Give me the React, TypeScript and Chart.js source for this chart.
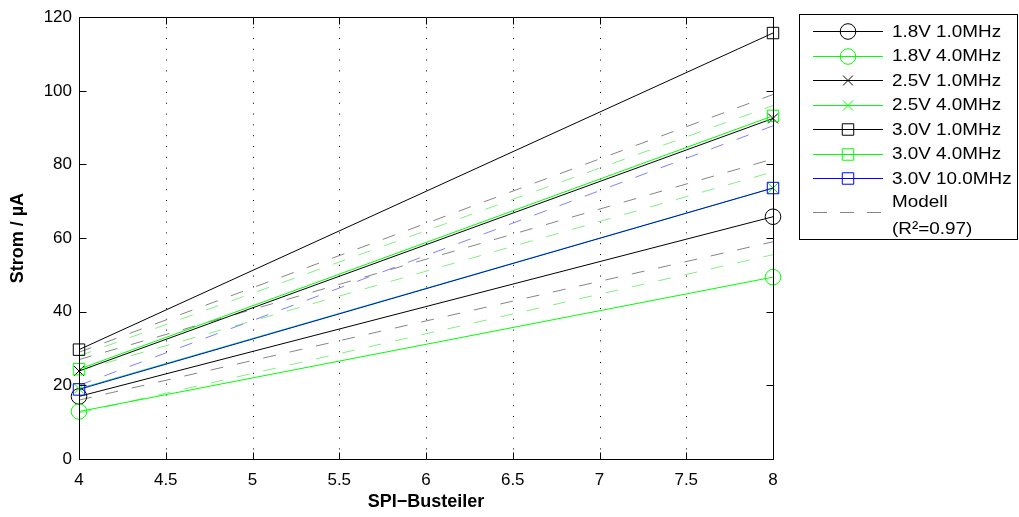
import { useEffect, useRef } from "react";
import { Chart, registerables } from "chart.js";

Chart.register(...registerables);

// SPI bus divider (x) and measured supply current in µA (y)
const divider = [4, 8];
const xTicks = [4, 4.5, 5, 5.5, 6, 6.5, 7, 7.5, 8];
const yTicks = [0, 20, 40, 60, 80, 100, 120];

const seriesLabels = [
  "1.8V 1.0MHz",
  "1.8V 4.0MHz",
  "2.5V 1.0MHz",
  "2.5V 4.0MHz",
  "3.0V 1.0MHz",
  "3.0V 4.0MHz",
  "3.0V 10.0MHz",
];

const meas18v1 = [17.0, 65.8];
const meas18v4 = [12.9, 49.4];
const meas25v1 = [23.9, 92.5];
const meas25v4 = [19.1, 73.6];
const meas30v1 = [29.7, 115.7];
const meas30v4 = [24.4, 93.2];
const meas30v10 = [18.9, 73.6];

// Linear model per operating point
const model18v1 = [16.0, 59.0];
const model18v4 = [12.5, 55.5];
const model25v1 = [27.0, 81.5];
const model25v4 = [24.0, 78.0];
const model30v1 = [29.0, 99.0];
const model30v4 = [28.0, 96.0];
const model30v10 = [20.0, 90.5];

const modelLabel = "Modell";
const modelLabel2 = "(R²=0.97)";

const BLACK = "#000000";
const GREEN = "#00ff00";
const BLUE = "#0000ff";
const GRAY_M = "#858585";
const GREEN_M = "#80f080";
const BLUE_M = "#8080ff";

const FONT = "'Liberation Sans', Arial, Helvetica, sans-serif";

type Marker = "circle" | "crossRot" | "rect";

const measured: { values: number[]; color: string; marker: Marker; radius: number }[] = [
  { values: meas18v1, color: BLACK, marker: "circle", radius: 7.8 },
  { values: meas18v4, color: GREEN, marker: "circle", radius: 7.8 },
  { values: meas25v1, color: BLACK, marker: "crossRot", radius: 7 },
  { values: meas25v4, color: GREEN, marker: "crossRot", radius: 7 },
  { values: meas30v1, color: BLACK, marker: "rect", radius: 8.1 },
  { values: meas30v4, color: GREEN, marker: "rect", radius: 8.1 },
  { values: meas30v10, color: BLUE, marker: "rect", radius: 8.1 },
];

const models: { values: number[]; color: string }[] = [
  { values: model18v1, color: GRAY_M },
  { values: model18v4, color: GREEN_M },
  { values: model25v1, color: GRAY_M },
  { values: model25v4, color: GREEN_M },
  { values: model30v1, color: GRAY_M },
  { values: model30v4, color: GREEN_M },
  { values: model30v10, color: BLUE_M },
];

const toPoints = (vals: number[]) => divider.map((x, i) => ({ x, y: vals[i] }));

function drawMarker(ctx: CanvasRenderingContext2D, marker: Marker, x: number, y: number, r: number) {
  ctx.beginPath();
  if (marker === "circle") {
    ctx.arc(x, y, r, 0, Math.PI * 2);
  } else if (marker === "rect") {
    const h = r * Math.SQRT1_2;
    ctx.rect(x - h, y - h, 2 * h, 2 * h);
  } else {
    const d = r * Math.SQRT1_2;
    ctx.moveTo(x - d, y - d);
    ctx.lineTo(x + d, y + d);
    ctx.moveTo(x - d, y + d);
    ctx.lineTo(x + d, y - d);
  }
  ctx.stroke();
}

const axesBoxPlugin = {
  id: "axesBox",
  beforeDatasetsDraw(chart: any) {
    const { ctx, chartArea: a, scales } = chart;
    const xs = scales.x;
    ctx.save();
    ctx.strokeStyle = "#000";
    ctx.lineWidth = 1;
    ctx.setLineDash([1, 9.8]);
    ctx.lineDashOffset = -10;
    for (const v of xTicks) {
      if (v === xTicks[0] || v === xTicks[xTicks.length - 1]) continue;
      const px = Math.round(xs.getPixelForValue(v)) + 0.5;
      ctx.beginPath();
      ctx.moveTo(px, a.top);
      ctx.lineTo(px, a.bottom);
      ctx.stroke();
    }
    ctx.restore();
  },
  afterDatasetsDraw(chart: any) {
    const { ctx, chartArea: a, scales } = chart;
    const xs = scales.x;
    const ys = scales.y;
    const tick = 7;
    ctx.save();
    ctx.strokeStyle = "#000";
    ctx.lineWidth = 1;
    ctx.setLineDash([]);
    const L = Math.round(a.left) + 0.5;
    const R = Math.round(a.right) + 0.5;
    const T = Math.round(a.top) + 0.5;
    const B = Math.round(a.bottom) + 0.5;
    ctx.beginPath();
    ctx.rect(L, T, R - L, B - T);
    for (const v of xTicks) {
      const px = Math.round(xs.getPixelForValue(v)) + 0.5;
      ctx.moveTo(px, B);
      ctx.lineTo(px, B - tick);
      ctx.moveTo(px, T);
      ctx.lineTo(px, T + tick);
    }
    for (const v of yTicks) {
      const py = Math.round(ys.getPixelForValue(v)) + 0.5;
      ctx.moveTo(L, py);
      ctx.lineTo(L + tick, py);
      ctx.moveTo(R, py);
      ctx.lineTo(R - tick, py);
    }
    ctx.stroke();
    ctx.restore();
  },
  afterDraw(chart: any) {
    const { ctx } = chart;
    const box = { l: 799.5, t: 14.5, r: 1017.5, b: 239.5 };
    const lineX0 = 813;
    const lineX1 = 883;
    const markX = 848;
    const textX = 892;
    const rows = [31, 55.5, 80, 104.5, 129, 153.5, 178];
    const stretch = 1.11;
    ctx.save();
    ctx.fillStyle = "#fff";
    ctx.fillRect(box.l, box.t, box.r - box.l, box.b - box.t);
    ctx.strokeStyle = "#000";
    ctx.lineWidth = 1;
    ctx.strokeRect(box.l, box.t, box.r - box.l, box.b - box.t);

    const drawText = (txt: string, x: number, y: number, size = 17) => {
      ctx.save();
      ctx.translate(x, y);
      ctx.scale(stretch, 1);
      ctx.fillStyle = "#000";
      ctx.font = `${size}px ${FONT}`;
      ctx.textAlign = "left";
      ctx.textBaseline = "middle";
      ctx.fillText(txt, 0, 0);
      const w = ctx.measureText(txt).width * stretch;
      ctx.restore();
      return w;
    };

    measured.forEach((s, i) => {
      const y = Math.round(rows[i]) + 0.5;
      ctx.strokeStyle = s.color;
      ctx.lineWidth = 1;
      ctx.setLineDash([]);
      ctx.beginPath();
      ctx.moveTo(lineX0, y);
      ctx.lineTo(lineX1, y);
      ctx.stroke();
      drawMarker(ctx, s.marker, markX, y, s.radius);
      drawText(seriesLabels[i], textX, rows[i] + 1);
    });

    // model entry
    ctx.strokeStyle = GRAY_M;
    ctx.setLineDash([14, 13]);
    ctx.beginPath();
    ctx.moveTo(lineX0, 212.5);
    ctx.lineTo(lineX1, 212.5);
    ctx.stroke();
    ctx.setLineDash([]);
    drawText(modelLabel, textX, 202);
    drawText(modelLabel2, textX, 229);
    ctx.restore();
  },
};

export default function App() {
  const ref = useRef<HTMLCanvasElement>(null);

  useEffect(() => {
    const canvas = ref.current;
    if (!canvas) return;

    const dataSets: any[] = [];
    measured.forEach((s, i) => {
      dataSets.push({
        label: seriesLabels[i],
        data: toPoints(s.values),
        borderColor: s.color,
        backgroundColor: "transparent",
        borderWidth: 1,
        pointStyle: s.marker,
        pointRadius: s.radius,
        pointBorderWidth: 1,
        pointBorderColor: s.color,
        pointBackgroundColor: "transparent",
        tension: 0,
        fill: false,
        clip: false,
        order: 20 - i,
      });
    });
    models.forEach((m, i) => {
      dataSets.push({
        label: modelLabel,
        data: toPoints(m.values),
        borderColor: m.color,
        backgroundColor: "transparent",
        borderWidth: 1,
        borderDash: [13, 14],
        pointRadius: 0,
        tension: 0,
        fill: false,
        clip: false,
        order: 40 - i,
      });
    });

    const tickFont = { family: FONT, size: 17 };
    const titleFont = { family: FONT, size: 18, weight: "bold" as const };

    const chart = new Chart(canvas, {
      type: "line",
      data: { datasets: dataSets },
      options: {
        responsive: false,
        animation: false,
        devicePixelRatio: 1,
        layout: { padding: { left: 0, top: 14, right: 246, bottom: 0 } },
        plugins: {
          legend: { display: false },
          tooltip: { enabled: false },
        },
        scales: {
          x: {
            type: "linear",
            min: 4,
            max: 8,
            afterBuildTicks: (s: any) => {
              s.ticks = xTicks.map((v) => ({ value: v }));
            },
            afterFit: (s: any) => {
              s.height = 58;
            },
            ticks: {
              font: tickFont,
              color: "#000",
              padding: 11,
              maxRotation: 0,
              autoSkip: false,
              callback: (v: any) => String(v),
            },
            grid: { display: false, drawTicks: false },
            border: { display: false },
            title: {
              display: true,
              text: "SPI−Busteiler",
              color: "#000",
              font: titleFont,
              padding: { top: 0, bottom: 4 },
            },
          },
          y: {
            type: "linear",
            min: 0,
            max: 120,
            afterBuildTicks: (s: any) => {
              s.ticks = yTicks.map((v) => ({ value: v }));
            },
            afterFit: (s: any) => {
              s.width = 79;
            },
            ticks: {
              font: tickFont,
              color: "#000",
              padding: 7,
              autoSkip: false,
              callback: (v: any) => String(v),
            },
            grid: { display: false, drawTicks: false },
            border: { display: false },
            title: {
              display: true,
              text: "Strom / µA",
              color: "#000",
              font: titleFont,
              padding: { top: 7, bottom: 0 },
            },
          },
        },
      },
      plugins: [axesBoxPlugin],
    });

    return () => chart.destroy();
  }, []);

  return (
    <div style={{ position: "absolute", left: 0, top: 0, width: 1019, height: 517, background: "#fff" }}>
      <canvas ref={ref} width={1019} height={517} style={{ display: "block" }} />
    </div>
  );
}
